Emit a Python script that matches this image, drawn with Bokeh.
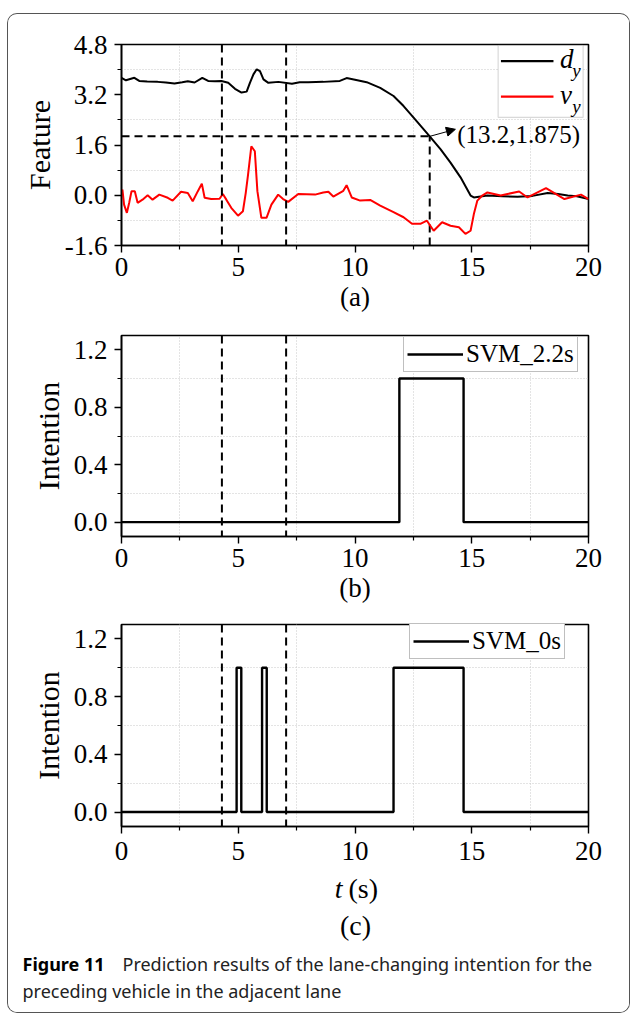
from bokeh.plotting import figure
from bokeh.layouts import column
from bokeh.models import (Range1d, FixedTicker, NumeralTickFormatter, Span, Label,
                          Arrow, NormalHead, BoxAnnotation, Legend, LegendItem)
from bokeh.embed import file_html
from bokeh.resources import INLINE

# ---------------- data ----------------
t_d = [0, 0.19, 0.55, 0.76, 1.1, 1.55, 1.9, 2.27, 2.6, 2.84, 3.13, 3.46, 3.71, 4.0, 4.28, 4.57,
       4.86, 5.14, 5.36, 5.5, 5.65, 5.79, 5.93, 6.08, 6.29, 6.72, 7.3, 7.63, 8.0, 8.64, 9.35, 9.64,
       10.0, 10.5, 11.08, 11.65, 12.08, 12.51, 13.2, 13.66, 14.09, 14.52, 14.95, 15.09, 15.67,
       16.3, 16.96, 17.6, 18.25, 18.7, 19.11, 19.5, 20]
d_y = [3.74, 3.66, 3.74, 3.64, 3.62, 3.61, 3.59, 3.56, 3.60, 3.63, 3.59, 3.74, 3.64, 3.63, 3.64,
       3.58, 3.39, 3.27, 3.30, 3.58, 3.85, 4.01, 3.95, 3.69, 3.58, 3.61, 3.55, 3.60, 3.60, 3.61,
       3.64, 3.73, 3.68, 3.60, 3.42, 3.16, 2.84, 2.47, 1.875, 1.47, 1.04, 0.57, -0.01, -0.07,
       -0.01, -0.03, -0.05, -0.02, 0.07, 0.04, -0.01, -0.03, -0.12]

t_v = [0, 0.04, 0.11, 0.23, 0.33, 0.43, 0.57, 0.69, 0.9, 1.12, 1.33, 1.62, 1.98, 2.19, 2.55, 2.84,
       3.05, 3.27, 3.44, 3.56, 3.84, 4.2, 4.34, 4.49, 4.7, 4.99, 5.2, 5.32, 5.42, 5.56, 5.71, 5.82,
       5.99, 6.21, 6.42, 6.71, 6.92, 7.14, 7.57, 8.29, 8.64, 8.86, 9.07, 9.5, 9.64, 9.86, 10.22,
       10.65, 11.08, 11.65, 12.08, 12.44, 12.8, 13.08, 13.37, 13.73, 14.09, 14.45, 14.73, 14.95,
       15.09, 15.24, 15.45, 15.67, 16.24, 16.53, 17.03, 17.39, 18.18, 18.54, 18.97, 19.68, 20]
v_y = [0.05, 0.18, -0.30, -0.56, -0.24, 0.13, 0.13, -0.24, -0.14, 0.0, -0.14, 0.02, -0.08, -0.17,
       0.11, 0.07, -0.19, 0.13, 0.37, -0.08, -0.12, -0.11, 0.04, -0.14, -0.40, -0.65, -0.51, 0.07,
       0.66, 1.56, 1.40, 0.13, -0.72, -0.72, -0.30, 0.02, -0.12, -0.21, 0.04, 0.02, 0.09, 0.11,
       -0.04, 0.14, 0.32, -0.07, -0.17, -0.15, -0.33, -0.54, -0.70, -0.91, -0.91, -0.81, -1.13,
       -0.86, -0.97, -1.02, -1.23, -1.13, -0.60, -0.17, -0.01, 0.09, -0.01, 0.04, 0.12, -0.07,
       0.23, 0.07, -0.12, 0.02, -0.12]

t_b = [0, 11.9, 11.9, 14.65, 14.65, 20]
int_b = [0, 0, 1, 1, 0, 0]

t_c = [0, 4.93, 4.93, 5.13, 5.13, 6.02, 6.02, 6.22, 6.22, 11.65, 11.65, 14.65, 14.65, 20]
int_c = [0, 0, 1, 1, 0, 0, 1, 1, 0, 0, 1, 1, 0, 0]

x_ticks = [0, 5, 10, 15, 20]
x_minor = [2.5, 7.5, 12.5, 17.5]
ya_ticks = [-1.6, 0.0, 1.6, 3.2, 4.8]
ya_minor = [-0.8, 0.8, 2.4, 4.0]
yb_ticks = [0.0, 0.4, 0.8, 1.2]
yb_minor = [0.2, 0.6, 1.0]

vlines = [4.3, 7.05]          # dashed reference times
mark_t, mark_d = 13.2, 1.875  # annotated point

SERIF = "Liberation Serif"
TICK_FS = "27px"
FW = 467
DASH = "8 5"
BORDER = "1.2px solid #555555"


def make_fig(yr, yt, ym, h, top, bottom, ylabel):
    p = figure(frame_width=FW, frame_height=h, x_range=Range1d(0, 20), y_range=yr,
               output_backend="svg", toolbar_location=None,
               min_border_left=113, min_border_right=41,
               min_border_top=top, min_border_bottom=bottom)
    p.background_fill_color = "white"
    p.border_fill_color = "white"
    p.outline_line_color = "black"
    p.outline_line_width = 1.6
    p.outline_line_alpha = 1
    p.xaxis.ticker = FixedTicker(ticks=x_ticks, minor_ticks=x_minor)
    p.yaxis.ticker = FixedTicker(ticks=yt, minor_ticks=ym)
    p.yaxis.formatter = NumeralTickFormatter(format="0.0")
    for ax in (p.xaxis[0], p.yaxis[0]):
        ax.major_label_text_font = SERIF
        ax.major_label_text_font_size = TICK_FS
        ax.major_label_text_color = "black"
        ax.axis_line_width = 1.6
        ax.axis_line_color = "black"
        ax.major_tick_line_color = "black"
        ax.minor_tick_line_color = "black"
        ax.major_tick_line_width = 1.4
        ax.minor_tick_line_width = 1.2
        ax.major_tick_out = 7
        ax.major_tick_in = 0
        ax.minor_tick_out = 4
        ax.minor_tick_in = 0
        ax.axis_label_text_font = SERIF
        ax.axis_label_text_font_size = "27px"
        ax.axis_label_text_font_style = "normal"
        ax.axis_label_text_color = "black"
    p.yaxis.axis_label_text_font_size = "30px"
    p.xaxis.major_label_standoff = 5
    p.yaxis.major_label_standoff = 7
    p.yaxis.axis_label = ylabel
    p.yaxis.axis_label_standoff = 6
    for g in (p.xgrid[0], p.ygrid[0]):
        g.grid_line_color = None
        g.minor_grid_line_color = "#c8c8c8"
        g.minor_grid_line_dash = "1 2"
        g.minor_grid_line_width = 1
    for v in vlines:
        p.add_layout(Span(location=v, dimension="height", line_color="black",
                          line_dash=DASH, line_width=2))
    return p


# ---------------- panel (a) ----------------
fa = make_fig(Range1d(-1.6, 4.8), ya_ticks, ya_minor, 201, 30, 77, "Feature")
fa.xaxis.axis_label = "(a)"
fa.xaxis.axis_label_standoff = 3
fa.segment(x0=[0, mark_t], y0=[mark_d, -1.6], x1=[mark_t, mark_t], y1=[mark_d, mark_d],
           line_color="black", line_dash=DASH, line_width=2)
fa.line(t_d, d_y, line_color="black", line_width=2)
fa.line(t_v, v_y, line_color="#ff0000", line_width=2)
fa.add_layout(Arrow(end=NormalHead(size=9, fill_color="black", line_color="black"),
                    x_start=mark_t, y_start=mark_d, x_end=14.3, y_end=2.1,
                    line_color="black", line_width=1))
fa.add_layout(Label(x=14.38, y=1.93, text=f"({mark_t},{mark_d})", text_font=SERIF,
                    text_font_size="25px", text_baseline="middle", text_align="left",
                    text_color="black"))
# legend (a)
fa.add_layout(BoxAnnotation(left=16.13, right=19.77, top=4.77, bottom=2.48,
                            fill_color="white", fill_alpha=1, line_color="#808080",
                            line_width=1.2, level="underlay"))
fa.segment(x0=[16.25, 16.25], y0=[4.27, 3.14], x1=[18.5, 18.5], y1=[4.27, 3.14],
           line_color=["black", "#ff0000"], line_width=2.2)
for txt, x, y, fs in [("d", 18.78, 4.33, "27px"), ("y", 19.3, 3.98, "19px"),
                      ("v", 18.78, 3.2, "27px"), ("y", 19.3, 2.84, "19px")]:
    fa.add_layout(Label(x=x, y=y, text=txt, text_font=SERIF, text_font_size=fs,
                        text_font_style="italic", text_baseline="middle",
                        text_align="left", text_color="black"))

# ---------------- panel (b) ----------------
fb = make_fig(Range1d(-0.1, 1.3), yb_ticks, yb_minor, 201, 13, 79, "Intention")
fb.xaxis.axis_label = "(b)"
fb.xaxis.axis_label_standoff = 3
rb = fb.line(t_b, int_b, line_color="black", line_width=2.4)
lb = Legend(items=[LegendItem(label="SVM_2.2s", renderers=[rb])],
            location=(282, 164), glyph_width=56, glyph_height=20, label_standoff=3,
            padding=3, spacing=0, margin=0, border_line_color="#808080",
            border_line_width=1.2, label_text_font=SERIF, label_text_font_size="25px",
            label_text_color="black", background_fill_alpha=1)
fb.add_layout(lb)

# ---------------- panel (c) ----------------
fc = make_fig(Range1d(-0.1, 1.3), yb_ticks, yb_minor, 202, 9, 44, "Intention")
fc.xaxis.major_label_standoff = 8
rc = fc.line(t_c, int_c, line_color="black", line_width=2.4)
lc = Legend(items=[LegendItem(label="SVM_0s", renderers=[rc])],
            location=(288, 167), glyph_width=56, glyph_height=20, label_standoff=3,
            padding=3, spacing=0, margin=0, border_line_color="#808080",
            border_line_width=1.2, label_text_font=SERIF, label_text_font_size="25px",
            label_text_color="black", background_fill_alpha=1)
fc.add_layout(lc)

top = column(fa, fb, fc, spacing=0,
             styles={"border": BORDER, "border-bottom": "none",
                     "border-radius": "10px 10px 0 0",
                     "margin-left": "7px", "margin-top": "13px", "overflow": "hidden"})

# ---------------- labels + caption (separate root, pixel coordinates) ----------------
fcap = figure(frame_width=621, frame_height=142, x_range=Range1d(0, 621),
              y_range=Range1d(142, 0), output_backend="svg", toolbar_location=None,
              min_border=0,
              styles={"border": BORDER, "border-top": "none",
                      "border-radius": "0 0 10px 10px", "margin-left": "7px",
                      "overflow": "hidden"})
fcap.axis.visible = False
fcap.grid.visible = False
fcap.outline_line_color = None
fcap.background_fill_color = "white"
fcap.border_fill_color = "white"
fcap.add_layout(Label(x=334, y=18, text="t", text_font=SERIF, text_font_size="28px",
                      text_font_style="italic", text_baseline="middle", text_align="right",
                      text_color="black"))
fcap.add_layout(Label(x=340, y=18, text="(s)", text_font=SERIF, text_font_size="28px",
                      text_baseline="middle", text_align="left", text_color="black"))
fcap.add_layout(Label(x=347, y=55, text="(c)", text_font=SERIF, text_font_size="28px",
                      text_baseline="middle", text_align="center", text_color="black"))
CAP = "Noto Sans"
fcap.add_layout(Label(x=14, y=93, text="Figure 11", text_font=CAP, text_font_size="18px",
                      text_font_style="bold", text_baseline="middle", text_align="left",
                      text_color="black"))
fcap.add_layout(Label(x=114, y=93,
                      text="Prediction results of the lane-changing intention for the",
                      text_font=CAP, text_font_size="18px", text_baseline="middle",
                      text_align="left", text_color="#222222"))
fcap.add_layout(Label(x=14, y=120, text="preceding vehicle in the adjacent lane",
                      text_font=CAP, text_font_size="18px", text_baseline="middle",
                      text_align="left", text_color="#222222"))

open("out.html", "w").write(file_html([top, fcap], INLINE))
